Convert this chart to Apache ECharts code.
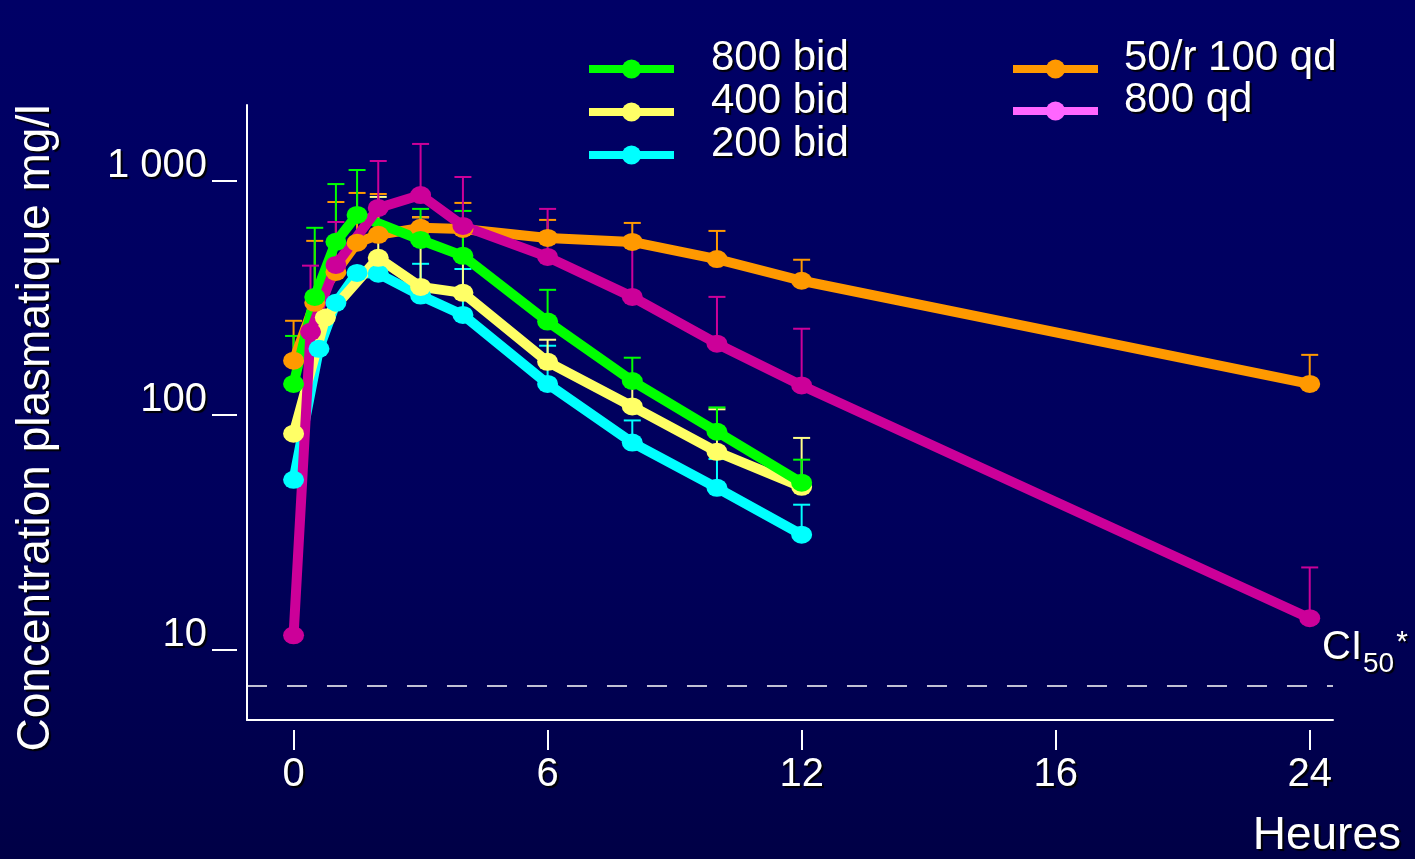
<!DOCTYPE html>
<html>
<head>
<meta charset="utf-8">
<script src="https://cdn.jsdelivr.net/npm/echarts@6/dist/echarts.min.js"></script>
<style>
  html, body { margin: 0; padding: 0; background: #00005a; }
  #chart { width: 1415px; height: 859px; }
</style>
</head>
<body>
<div id="chart"></div>
<script>
// Plasma concentration (mg/l) over time (hours) for five dosing regimens.
// Each regimen: sampling hours, mean concentration, upper end of the error bar.

const HOURS_200BID = [0, 0.6, 1, 1.5, 2, 3, 4, 6, 8, 10, 12];
const MEAN_200BID  = [53, 192, 302, 405, 402, 324, 268, 136, 76.4, 49, 30.9];
const UPPER_200BID = [null, null, null, null, 480, 443, 421, 198, 95, 65, 41.5];

const HOURS_400BID = [0, 0.75, 2, 3, 4, 6, 8, 10, 12];
const MEAN_400BID  = [83.4, 261, 470, 353, 333, 169, 109, 69.8, 49.5];
const UPPER_400BID = [null, null, 855, 700, 640, 210, 140, 106, 80];

const HOURS_800BID = [0, 0.5, 1, 1.5, 3, 4, 6, 8, 10, 12];
const MEAN_800BID  = [136, 320, 550, 716, 560, 479, 251, 140, 85, 51.5];
const UPPER_800BID = [218, 631, 970, 1114, 760, 745, 343, 176, 108, 64.6];

const HOURS_50R100QD = [0, 0.5, 1, 1.5, 2, 3, 4, 6, 8, 10, 12, 24];
const MEAN_50R100QD  = [171, 302, 409, 545, 589, 631, 624, 571, 549, 464, 375, 136];
const UPPER_50R100QD = [253, 555, 813, 889, 880, 700, 806, 682, 662, 612, 461, 181];

const HOURS_800QD = [0, 0.4, 1, 2, 3, 4, 6, 8, 10, 12, 24];
const MEAN_800QD  = [11.5, 227, 438, 767, 871, 643, 474, 320, 202, 134, 13.6];
const UPPER_800QD = [null, 435, 668, 1217, 1439, 1040, 760, 560, 320, 234, 22.4];

const X_TICK_VALUES = [0, 6, 12, 18, 24];
const X_TICK_LABELS = ['0', '6', '12', '16', '24'];
const Y_TICK_VALUES = [10, 100, 1000];
const Y_TICK_LABELS = ['10', '100', '1 000'];
const CI50 = 7;

const FONT = '"Liberation Sans", Arial, sans-serif';
const SHADOW = { textShadowColor: 'rgba(0,0,0,0.95)', textShadowOffsetX: 2, textShadowOffsetY: 2, textShadowBlur: 1 };

// drawing order: first entry at the bottom
const GROUPS = [
  { name: '200 bid',     hours: HOURS_200BID,   mean: MEAN_200BID,   upper: UPPER_200BID,   color: '#00ffff', barColor: '#00ffff' },
  { name: '400 bid',     hours: HOURS_400BID,   mean: MEAN_400BID,   upper: UPPER_400BID,   color: '#ffff66', barColor: '#ffff88' },
  { name: '50/r 100 qd', hours: HOURS_50R100QD, mean: MEAN_50R100QD, upper: UPPER_50R100QD, color: '#ff9900', barColor: '#ff9900' },
  { name: '800 bid',     hours: HOURS_800BID,   mean: MEAN_800BID,   upper: UPPER_800BID,   color: '#00ff00', barColor: '#00ff00' },
  { name: '800 qd',      hours: HOURS_800QD,    mean: MEAN_800QD,    upper: UPPER_800QD,    color: '#cc0099', barColor: '#cc0099' }
];

function renderErrorBar(params, api) {
  const x = api.value(0);
  const p0 = api.coord([x, api.value(1)]);
  const p1 = api.coord([x, api.value(2)]);
  const half = 8.5;
  const style = { stroke: api.visual('color'), lineWidth: 2 };
  return {
    type: 'group',
    children: [
      { type: 'line', shape: { x1: p0[0], y1: p0[1], x2: p1[0], y2: p1[1] }, style: style },
      { type: 'line', shape: { x1: p1[0] - half, y1: p1[1], x2: p1[0] + half, y2: p1[1] }, style: style }
    ]
  };
}

const series = [];
GROUPS.forEach(function (g) {
  const bars = [];
  g.hours.forEach(function (h, i) {
    if (g.upper[i] != null) bars.push([h, g.mean[i], g.upper[i]]);
  });
  series.push({
    type: 'custom',
    name: g.name + ' (ET)',
    renderItem: renderErrorBar,
    data: bars,
    encode: { x: 0, y: [1, 2] },
    itemStyle: { color: g.barColor },
    z: 1,
    silent: true
  });
});
GROUPS.forEach(function (g) {
  series.push({
    type: 'line',
    name: g.name,
    data: g.hours.map(function (h, i) { return [h, g.mean[i]]; }),
    symbol: 'circle',
    symbolSize: [21, 18],
    showSymbol: true,
    lineStyle: { width: 10, color: g.color },
    itemStyle: { color: g.color },
    emphasis: { disabled: true },
    z: 3,
    silent: true
  });
});

// dashed threshold line with its label
series[series.length - 1].markLine = {
  silent: true,
  symbol: 'none',
  animation: false,
  lineStyle: { color: '#ffffff', type: [20, 20], width: 1.5 },
  label: {
    show: true,
    position: 'end',
    distance: [-11, 0],
    padding: [0, 0, 76, 0],
    formatter: '{a|CI}{b|50}{c|*}',
    rich: {
      a: Object.assign({ fontSize: 40, color: '#fff', fontFamily: FONT }, SHADOW),
      b: Object.assign({ fontSize: 28, color: '#fff', fontFamily: FONT, padding: [34, 0, 0, 1] }, SHADOW),
      c: Object.assign({ fontSize: 30, color: '#fff', fontFamily: FONT, padding: [0, 0, 10, 2] }, SHADOW)
    }
  },
  data: [{ yAxis: CI50 }]
};

function yLabel(v) {
  for (let i = 0; i < Y_TICK_VALUES.length; i++) {
    if (Math.abs(v - Y_TICK_VALUES[i]) / Y_TICK_VALUES[i] < 1e-6) return Y_TICK_LABELS[i];
  }
  return '';
}
function xLabel(v) {
  const i = X_TICK_VALUES.indexOf(v);
  return i >= 0 ? X_TICK_LABELS[i] : '';
}
function legendLabel(name) {
  return '{t|' + name + '}';
}

const X_MIN = -1.1, X_MAX = 24.55;
const Y_MIN = 5, Y_MAX = 2110;

const legendText = function (padLeft) {
  return {
    color: '#fff', fontSize: 42, fontFamily: FONT,
    rich: {
      t: Object.assign({
        color: '#fff', fontSize: 42, fontFamily: FONT, lineHeight: 24,
        padding: [0, 0, 22, padLeft]
      }, SHADOW)
    }
  };
};

const option = {
  animation: false,
  backgroundColor: {
    type: 'linear', x: 0, y: 0, x2: 0, y2: 1,
    colorStops: [
      { offset: 0, color: '#000066' },
      { offset: 0.6, color: '#00005c' },
      { offset: 1, color: '#000046' }
    ]
  },
  grid: { left: 247, right: 82, top: 105, bottom: 139, containLabel: false },
  legend: [
    {
      left: 585, top: 37, padding: 0, orient: 'vertical',
      itemWidth: 85, itemHeight: 24, itemGap: -21,
      selectedMode: false,
      lineStyle: { width: 8 },
      formatter: legendLabel,
      textStyle: legendText(32),
      data: ['800 bid', '400 bid', '200 bid']
    },
    {
      left: 1009, top: 37, padding: 0, orient: 'vertical',
      itemWidth: 85, itemHeight: 24, itemGap: -22,
      selectedMode: false,
      lineStyle: { width: 8 },
      formatter: legendLabel,
      textStyle: legendText(21),
      data: ['50/r 100 qd', { name: '800 qd', itemStyle: { color: '#ff66ff' }, lineStyle: { color: '#ff66ff' } }]
    }
  ],
  xAxis: [
    {
      type: 'value', position: 'bottom', min: X_MIN, max: X_MAX,
      axisLine: { show: true, onZero: false, lineStyle: { color: '#ffffff', width: 2 } },
      axisTick: { show: false }, axisLabel: { show: false }, splitLine: { show: false }
    },
    {
      type: 'value', position: 'bottom', offset: 10, min: X_MIN, max: X_MAX,
      axisLine: { show: false, onZero: false },
      axisTick: { show: true, customValues: X_TICK_VALUES, length: 20, inside: false, lineStyle: { color: '#ffffff', width: 2 } },
      axisLabel: Object.assign({
        show: true, customValues: X_TICK_VALUES, formatter: xLabel,
        color: '#fff', fontSize: 40, fontFamily: FONT, margin: 25
      }, SHADOW),
      splitLine: { show: false }
    }
  ],
  yAxis: [
    {
      type: 'log', position: 'left', min: Y_MIN, max: Y_MAX, logBase: 10,
      axisLine: { show: true, onZero: false, lineStyle: { color: '#ffffff', width: 2 } },
      axisTick: { show: false }, axisLabel: { show: false }, splitLine: { show: false }
    },
    {
      type: 'log', position: 'left', offset: 10, min: Y_MIN, max: Y_MAX, logBase: 10,
      axisLine: { show: false, onZero: false },
      axisTick: { show: true, customValues: Y_TICK_VALUES, length: 25, lineStyle: { color: '#ffffff', width: 2 } },
      axisLabel: Object.assign({
        show: true, customValues: Y_TICK_VALUES, formatter: yLabel,
        color: '#fff', fontSize: 40, fontFamily: FONT, margin: 30,
        verticalAlign: 'bottom', lineHeight: 30
      }, SHADOW),
      splitLine: { show: false }
    }
  ],
  graphic: [
    {
      type: 'text', x: 36, y: 428, rotation: Math.PI / 2,
      style: Object.assign({
        text: 'Concentration plasmatique mg/l',
        font: '46px ' + FONT, fill: '#ffffff',
        align: 'center', verticalAlign: 'middle',
        textAlign: 'center', textVerticalAlign: 'middle'
      }, SHADOW)
    },
    {
      type: 'text', right: 14, bottom: 0,
      style: Object.assign({
        text: 'Heures', font: '46px ' + FONT, fill: '#ffffff'
      }, SHADOW)
    }
  ],
  series: series
};

const chart = echarts.init(document.getElementById('chart'), null, { renderer: 'canvas' });
chart.setOption(option);
</script>
</body>
</html>
